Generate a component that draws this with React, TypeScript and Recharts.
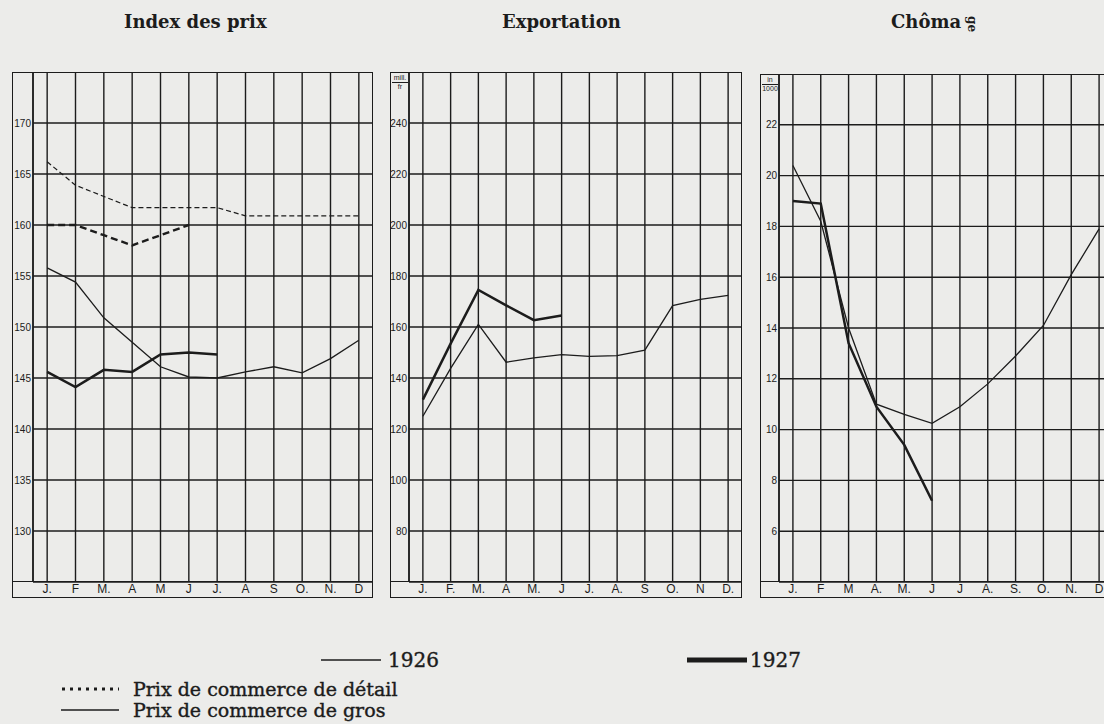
import React from "react";
import { CartesianGrid, Line, LineChart, XAxis, YAxis } from "recharts";

// months in order, the x axis uses their index
const months = ["jan", "feb", "mar", "apr", "may", "jun", "jul", "aug", "sep", "oct", "nov", "dec"];

// hand-lettered month labels under each panel
const labelsPrix = ["J.", "F", "M.", "A", "M", "J", "J.", "A", "S", "O.", "N.", "D"];
const labelsExport = ["J.", "F.", "M.", "A", "M.", "J", "J.", "A.", "S", "O.", "N", "D."];
const labelsChomage = ["J.", "F", "M", "A.", "M.", "J", "J", "A.", "S.", "O.", "N.", "D"];

// Index des prix
const retail1926 = [166.2, 163.9, 162.8, 161.7, 161.7, 161.7, 161.7, 160.9, 160.9, 160.9, 160.9, 160.9];
const retail1927 = [160, 160, 159, 158, 159, 160, null, null, null, null, null, null];
const wholesale1926 = [155.8, 154.4, 150.9, 148.5, 146.1, 145.1, 145.0, 145.6, 146.1, 145.5, 146.9, 148.7];
const wholesale1927 = [145.6, 144.1, 145.8, 145.6, 147.3, 147.5, 147.3, null, null, null, null, null];

// Exportation (mill. fr)
const export1926 = [125, 143.8, 161, 146.2, 147.9, 149.2, 148.5, 148.8, 150.9, 168.4, 170.8, 172.4];
const export1927 = [131.5, 153.5, 174.5, 168.5, 162.7, 164.5, null, null, null, null, null, null];

// Chômage (in 1000)
const chomage1926 = [20.4, 18.2, 14.0, 11.0, 10.6, 10.25, 10.9, 11.8, 12.9, 14.1, 16.1, 17.9];
const chomage1927 = [19.0, 18.9, 13.4, 10.9, 9.4, 7.2, null, null, null, null, null, null];

const ticksPrix = [130, 135, 140, 145, 150, 155, 160, 165, 170];
const ticksExport = [80, 100, 120, 140, 160, 180, 200, 220, 240];
const ticksChomage = [6, 8, 10, 12, 14, 16, 18, 20, 22];

const ink = "#1c1c1c";
const paper = "#ececea";
const serif = "'DejaVu Serif', serif";
const hand = "'Liberation Sans', sans-serif";

type Serie = { key: string; values: (number | null)[]; width: number; dash?: string };

function buildRows(series: Serie[]) {
  return months.map((m, i) => {
    const row: Record<string, any> = { i, month: m };
    series.forEach((s) => {
      row[s.key] = s.values[i];
    });
    return row;
  });
}

interface PanelProps {
  left: number;
  top: number;
  width: number;
  height: number;
  axisWidth: number;
  domain: [number, number];
  ticks: number[];
  labels: string[];
  series: Serie[];
  unit?: [string, string];
}

function Panel({ left, top, width, height, axisWidth, domain, ticks, labels, series, unit }: PanelProps) {
  const data = buildRows(series);
  return (
    <div style={{ position: "absolute", left, top, width, height }}>
      <LineChart width={width} height={height} data={data} margin={{ top: 0, right: 0, bottom: 0, left: 0 }}>
        <CartesianGrid stroke={ink} strokeWidth={1.4} />
        <XAxis
          dataKey="i"
          type="number"
          domain={[-0.5, 11.5]}
          ticks={months.map((_, i) => i)}
          tickFormatter={(v) => labels[v]}
          interval={0}
          height={16}
          tickLine={false}
          axisLine={false}
          tickSize={0}
          tickMargin={2}
          tick={{ fill: ink, fontSize: 12, fontFamily: hand }}
        />
        <YAxis
          type="number"
          domain={domain}
          ticks={ticks}
          interval={0}
          width={axisWidth}
          tickLine={false}
          tickSize={0}
          tickMargin={2}
          axisLine={{ stroke: ink, strokeWidth: 1.5 }}
          tick={{ fill: ink, fontSize: 10, fontFamily: hand }}
        />
        {series.map((s) => (
          <Line
            key={s.key}
            type="linear"
            dataKey={s.key}
            stroke={ink}
            strokeWidth={s.width}
            strokeDasharray={s.dash}
            dot={false}
            activeDot={false}
            connectNulls={false}
            isAnimationActive={false}
          />
        ))}
      </LineChart>
      {/* outer frame and the month strip */}
      <div
        style={{
          position: "absolute",
          left: 0,
          top: 0,
          width,
          height,
          border: `1.6px solid ${ink}`,
          boxSizing: "border-box",
          pointerEvents: "none",
        }}
      />
      <div
        style={{
          position: "absolute",
          left: 0,
          top: height - 16 - 0.7,
          width,
          borderTop: `1.5px solid ${ink}`,
        }}
      />
      {unit && (
        <div
          style={{
            position: "absolute",
            left: 2,
            top: 2,
            width: axisWidth - 3,
            fontFamily: hand,
            fontSize: 7,
            lineHeight: "8px",
            color: ink,
            textAlign: "center",
          }}
        >
          <div style={{ borderBottom: `0.8px solid ${ink}` }}>{unit[0]}</div>
          <div>{unit[1]}</div>
        </div>
      )}
    </div>
  );
}

const titleStyle: React.CSSProperties = {
  position: "absolute",
  top: 11,
  fontFamily: serif,
  fontWeight: 700,
  fontSize: 18,
  color: ink,
  whiteSpace: "nowrap",
};

const legendText: React.CSSProperties = {
  position: "absolute",
  fontFamily: serif,
  fontSize: 19,
  color: ink,
  whiteSpace: "nowrap",
  lineHeight: "20px",
  WebkitTextStroke: `0.4px ${ink}`,
};

export default function App() {
  return (
    <div
      style={{
        position: "absolute",
        left: 0,
        top: 0,
        width: 1104,
        height: 724,
        overflow: "hidden",
        background: paper,
      }}
    >
      <div style={{ ...titleStyle, left: 124 }}>Index des prix</div>
      <div style={{ ...titleStyle, left: 502 }}>Exportation</div>
      <div style={{ ...titleStyle, left: 891 }}>
        Chôma
        <span style={{ display: "inline-block", transform: "rotate(90deg)", fontSize: 12, marginLeft: 3 }}>ge</span>
      </div>

      <Panel
        left={12}
        top={72}
        width={361}
        height={526}
        axisWidth={21}
        domain={[125, 175]}
        ticks={ticksPrix}
        labels={labelsPrix}
        series={[
          { key: "retail1926", values: retail1926, width: 1.2, dash: "5 3" },
          { key: "retail1927", values: retail1927, width: 2.4, dash: "7 4" },
          { key: "wholesale1926", values: wholesale1926, width: 1.3 },
          { key: "wholesale1927", values: wholesale1927, width: 2.5 },
        ]}
      />
      <Panel
        left={390}
        top={72}
        width={352}
        height={526}
        axisWidth={19}
        domain={[60, 260]}
        ticks={ticksExport}
        labels={labelsExport}
        unit={["mill.", "fr"]}
        series={[
          { key: "export1926", values: export1926, width: 1.3 },
          { key: "export1927", values: export1927, width: 2.5 },
        ]}
      />
      <Panel
        left={760}
        top={74}
        width={353}
        height={524}
        axisWidth={19}
        domain={[4, 24]}
        ticks={ticksChomage}
        labels={labelsChomage}
        unit={["in", "1000"]}
        series={[
          { key: "chomage1926", values: chomage1926, width: 1.3 },
          { key: "chomage1927", values: chomage1927, width: 2.5 },
        ]}
      />

      {/* legend */}
      <svg style={{ position: "absolute", left: 0, top: 640 }} width={1104} height={84}>
        <line x1={321} x2={381} y1={20} y2={20} stroke={ink} strokeWidth={1.6} />
        <line x1={687} x2={747} y1={20} y2={20} stroke={ink} strokeWidth={5} />
        <line x1={62} x2={119} y1={49} y2={49} stroke={ink} strokeWidth={3} strokeDasharray="3 5" />
        <line x1={61} x2={119} y1={70} y2={70} stroke={ink} strokeWidth={1.6} />
      </svg>
      <div style={{ ...legendText, left: 388, top: 650, fontSize: 20 }}>1926</div>
      <div style={{ ...legendText, left: 750, top: 650, fontSize: 20 }}>1927</div>
      <div style={{ ...legendText, left: 133, top: 679 }}>Prix de commerce de détail</div>
      <div style={{ ...legendText, left: 133, top: 700 }}>Prix de commerce de gros</div>
    </div>
  );
}
